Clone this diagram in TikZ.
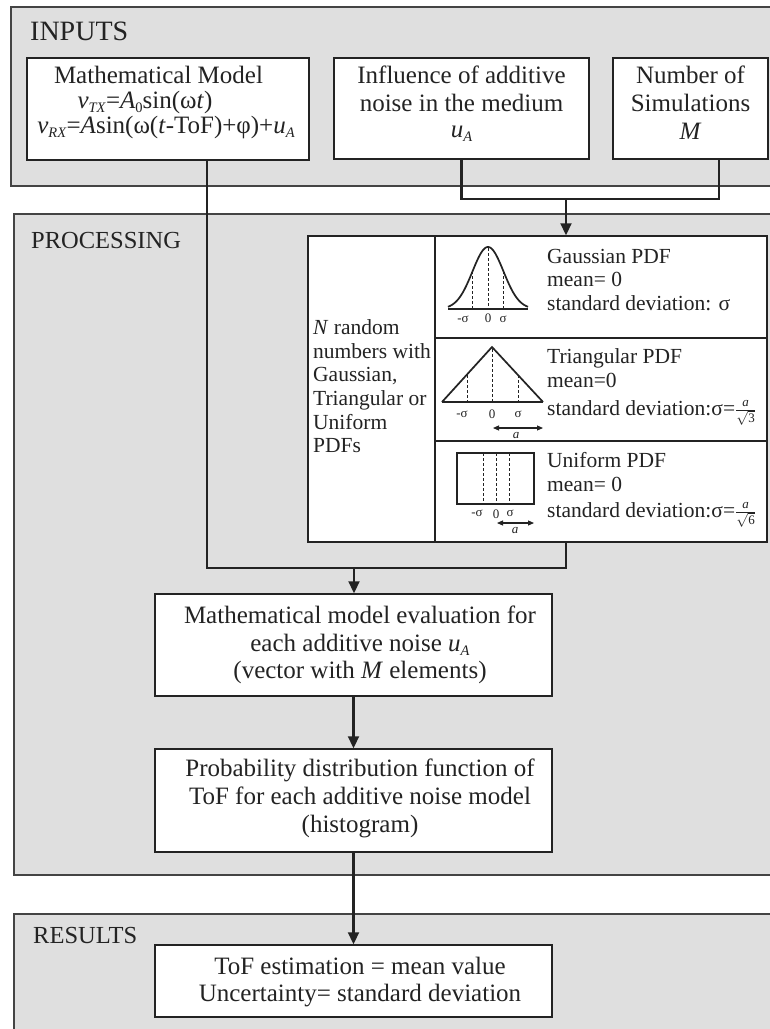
\documentclass[tikz,border=0pt]{standalone}
\usepackage{fontspec}
\usepackage{graphicx}
\setmainfont{Liberation Serif}
\usetikzlibrary{arrows.meta,calc}
\definecolor{panelgray}{RGB}{223,223,223}
\definecolor{edge}{RGB}{35,35,35}
\newcommand{\fr}[2]{$\frac{\mbox{\fontsize{13}{13}\selectfont #1}}{\sqrt{\mbox{\fontsize{13}{13}\selectfont #2}}}$}
\newcommand{\lo}[1]{\raisebox{-0.18em}{\scalebox{0.58}{#1}}}
\begin{document}
\begin{tikzpicture}[x=1pt,y=-1pt,
  panel/.style={draw=edge!85, fill=panelgray, line width=1.2pt},
  box/.style={draw=edge, fill=white, line width=1.5pt, rectangle, inner sep=0pt},
  wire/.style={draw=edge, line width=2.2pt},
  arr/.style={wire, -{Triangle[length=12pt,width=11pt]}},
  txt/.style={anchor=base, inner sep=0pt, text=edge, font=\fontsize{25}{28}\selectfont},
  ttxt/.style={anchor=base west, inner sep=0pt, text=edge, font=\fontsize{21.5}{24}\selectfont},
  sm/.style={anchor=base, inner sep=0pt, text=edge, font=\fontsize{13}{13}\selectfont},
  dsh/.style={draw=edge, line width=0.9pt, dash pattern=on 3pt off 2pt},
  crv/.style={draw=edge, line width=1.7pt},
  thin/.style={draw=edge, line width=1.1pt},
  dbl/.style={draw=edge, line width=1.1pt, {Triangle[length=6pt,width=5pt]}-{Triangle[length=6pt,width=5pt]}},
  sec/.style={anchor=base west, inner sep=0pt, text=edge}
]
\useasboundingbox (0,0) rectangle (770,1029);
\clip (0,0) rectangle (770,1029);
\fill[white] (0,0) rectangle (770,1029);

% panels
\path[panel] (11,7) rectangle (800,186);
\path[panel] (14,214) rectangle (800,875);
\path[panel] (14,914) rectangle (800,1060);

\node[sec, font=\fontsize{28}{30}\selectfont] (lin) at (30,40) {INPUTS};
\node[sec, font=\fontsize{24.5}{26}\selectfont] (lproc) at (31,248) {PROCESSING};
\node[sec, font=\fontsize{24.5}{26}\selectfont] (lres) at (33,943) {RESULTS};

% input boxes
\node[box, minimum width=282pt, minimum height=102pt] (mm) at (168,109) {};
\node[box, minimum width=255pt, minimum height=101pt] (inf) at (461.5,108.5) {};
\node[box, minimum width=155pt, minimum height=101pt] (num) at (690.5,108.5) {};

\node[txt] (mm1) at (158.5,83) {Mathematical Model};
\node[txt] (mm2) at (145,108) {\textit{v}\lo{\textit{TX}}=\textit{A}\lo{0}sin(ω\textit{t})};
\node[txt] (mm3) at (166,133) {\textit{v}\lo{\textit{RX}}=\textit{A}sin(ω(\textit{t}-ToF)+φ)+\textit{u}\lo{\textit{A}}};

\node[txt] (in1) at (461.5,83) {Influence of additive};
\node[txt] (in2) at (461.5,111) {noise in the medium};
\node[txt] (in3) at (461.5,137) {\textit{u}\lo{\textit{A}}};

\node[txt] (nu1) at (690.5,83) {Number of};
\node[txt] (nu2) at (690.5,111) {Simulations};
\node[txt] (nu3) at (690.5,139) {\textit{M}};

% table
\node[box, minimum width=459pt, minimum height=306pt] (tbl) at (537.5,389) {};
\draw[box] (435,236) -- (435,542);
\draw[box] (435,338) -- (767,338);
\draw[box] (435,441) -- (767,441);

\node[ttxt] (c1) at (313,334) {\textit{N} random};
\node[ttxt] (c2) at (313,358) {numbers with};
\node[ttxt] (c3) at (313,381) {Gaussian,};
\node[ttxt] (c4) at (313,405) {Triangular or};
\node[ttxt] (c5) at (313,429) {Uniform};
\node[ttxt] (c6) at (313,452) {PDFs};

% Gaussian
\draw[thin] (448,309) -- (528,309);
\draw[crv, domain=448:528, samples=80, smooth] plot (\x, {309-62*exp(-((\x-488)*(\x-488))/(2*15.5*15.5))});
\draw[dsh] (488,248) -- (488,309);
\draw[dsh] (472.5,271.4) -- (472.5,309);
\draw[dsh] (503.5,271.4) -- (503.5,309);
\node[sm] (g1) at (463,322) {-σ};
\node[sm] (g2) at (488,322) {0};
\node[sm] (g3) at (503,322) {σ};
\node[ttxt] (gt1) at (547,263) {Gaussian PDF};
\node[ttxt] (gt2) at (547,286) {mean= 0};
\node[ttxt] (gt3) at (547,310) {standard deviation: σ};

% Triangular
\draw[thin] (442,402) -- (543,402);
\draw[crv] (442,402) -- (492,347) -- (543,402);
\draw[dsh] (492,349) -- (492,402);
\draw[dsh] (467,375) -- (467,402);
\draw[dsh] (518,375) -- (518,402);
\node[sm] (t1) at (462,417) {-σ};
\node[sm] (t2) at (492,418) {0};
\node[sm] (t3) at (518,417) {σ};
\draw[dbl] (493,428) -- (543,428);
\node[sm] (ta) at (516,438) {\textit{a}};
\node[ttxt] (tt1) at (547,363) {Triangular PDF};
\node[ttxt] (tt2) at (547,387) {mean=0};
\node[ttxt] (tt3) at (547,415) {standard deviation:σ=\fr{\textit{a}}{3}};

% Uniform
\draw[thin, line width=1.4pt] (457,453) rectangle (534,504);
\draw[dsh] (483,453) -- (483,504);
\draw[dsh] (496,453) -- (496,504);
\draw[dsh] (509,453) -- (509,504);
\node[sm] (u1) at (477,516) {-σ};
\node[sm] (u2) at (496,518) {0};
\node[sm] (u3) at (510,516) {σ};
\draw[dbl] (497,523) -- (534,523);
\node[sm] (ua) at (515,533) {\textit{a}};
\node[ttxt] (ut1) at (547,467) {Uniform PDF};
\node[ttxt] (ut2) at (547,491) {mean= 0};
\node[ttxt] (ut3) at (547,517) {standard deviation:σ=\fr{\textit{a}}{6}};

% processing boxes
\node[box, minimum width=397pt, minimum height=102pt] (eval) at (353.5,645) {};
\node[txt] (e1) at (360,623) {Mathematical model evaluation for};
\node[txt] (e2) at (360,651) {each additive noise \textit{u}\lo{\textit{A}}};
\node[txt] (e3) at (360,678) {(vector with \textit{M} elements)};

\node[box, minimum width=397pt, minimum height=103pt] (prob) at (353.5,800.5) {};
\node[txt] (p1) at (360,776) {Probability distribution function of};
\node[txt] (p2) at (360,804) {ToF for each additive noise model};
\node[txt] (p3) at (360,832) {(histogram)};

\node[box, minimum width=397pt, minimum height=72pt] (res) at (353.5,981) {};
\node[txt] (r1) at (360,974) {ToF estimation = mean value};
\node[txt] (r2) at (360,1001) {Uncertainty= standard deviation};

% connectors
\coordinate (jn) at (566,199);
\coordinate (numo) at ($(num.south)+(28.5,0)$);
\draw[wire] (inf.south) |- (jn) -| (numo);
\draw[arr] (jn) -- (jn |- tbl.north);

\coordinate (mmo) at ($(mm.south)+(39,0)$);
\coordinate (jm) at (354,568);
\coordinate (tblo) at (tbl.south -| jn);
\draw[wire] (mmo) |- (jm) -| (tblo);
\draw[arr] (jm) -- (jm |- eval.north);
\draw[arr] (eval.south) -- (prob.north);
\draw[arr] (prob.south) -- (res.north);
\end{tikzpicture}
\end{document}
